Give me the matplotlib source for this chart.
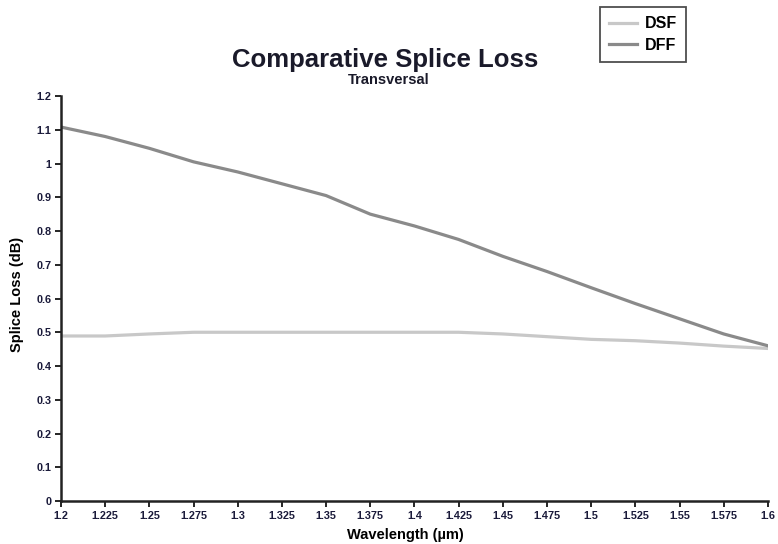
import matplotlib
matplotlib.use("Agg")
import matplotlib.pyplot as plt
import numpy as np

# wavelength (um) and splice loss (dB)
wavelength = [1.2, 1.225, 1.25, 1.275, 1.3, 1.325, 1.35, 1.375, 1.4,
              1.425, 1.45, 1.475, 1.5, 1.525, 1.55, 1.575, 1.6]
dsf_loss = [0.489, 0.489, 0.495, 0.500, 0.500, 0.500, 0.500, 0.500, 0.500,
            0.500, 0.495, 0.487, 0.479, 0.475, 0.468, 0.459, 0.452]
dff_loss = [1.108, 1.080, 1.045, 1.005, 0.975, 0.940, 0.905, 0.850, 0.815,
            0.775, 0.725, 0.680, 0.632, 0.585, 0.540, 0.495, 0.460]

xticks = [1.2, 1.225, 1.25, 1.275, 1.3, 1.325, 1.35, 1.375, 1.4,
          1.425, 1.45, 1.475, 1.5, 1.525, 1.55, 1.575, 1.6]
xtick_labels = ['1.2', '1.225', '1.25', '1.275', '1.3', '1.325', '1.35', '1.375', '1.4',
                '1.425', '1.45', '1.475', '1.5', '1.525', '1.55', '1.575', '1.6']
yticks = [0, 0.1, 0.2, 0.3, 0.4, 0.5, 0.6, 0.7, 0.8, 0.9, 1, 1.1, 1.2]
ytick_labels = ['0', '0.1', '0.2', '0.3', '0.4', '0.5', '0.6', '0.7', '0.8', '0.9', '1', '1.1', '1.2']

plt.rcParams['font.family'] = ['Liberation Sans', 'DejaVu Sans']

fig = plt.figure(figsize=(7.78, 5.44), dpi=100)
ax = fig.add_axes([0.0784, 0.079, 0.9086, 0.7445])

l1, = ax.plot(wavelength, dsf_loss, color='#c8c8c8', linewidth=2.3, label='DSF')
l2, = ax.plot(wavelength, dff_loss, color='#8a8a8a', linewidth=2.3, label='DFF')

ax.set_xlim(1.2, 1.6)
ax.set_ylim(0, 1.2)
ax.set_xticks(xticks)
ax.set_xticklabels(xtick_labels)
ax.set_yticks(yticks)
ax.set_yticklabels(ytick_labels)
ax.tick_params(direction='out', length=4, width=1.2, labelsize=7.8, colors='black', pad=3)
for lbl in ax.get_xticklabels() + ax.get_yticklabels():
    lbl.set_fontweight('bold')
    lbl.set_color('#1a1a3a')

for s in ['top', 'right']:
    ax.spines[s].set_visible(False)
for s in ['left', 'bottom']:
    ax.spines[s].set_linewidth(1.8)
    ax.spines[s].set_color('#222222')

ax.set_xlabel('Wavelength (µm)', fontsize=10.5, fontweight='bold')
ax.set_ylabel('Splice Loss (dB)', fontsize=10.5, fontweight='bold')
ax.xaxis.set_label_coords(0.487, -0.066)
ax.yaxis.set_label_coords(-0.052, 0.51)

fig.text(0.495, 0.889, 'Comparative Splice Loss', ha='center', va='center',
         fontsize=18.5, fontweight='bold', color='#1a1a2a')
fig.text(0.50, 0.853, 'Transversal', ha='center', va='center',
         fontsize=10.5, fontweight='bold', color='#1a1a2a')

leg = fig.legend(handles=[l1, l2], loc='upper left', bbox_to_anchor=(0.771, 0.988),
                 frameon=True, fancybox=False, fontsize=11.5, handlelength=1.7,
                 handletextpad=0.5, borderpad=0.6, labelspacing=0.4, borderaxespad=0)
leg.get_frame().set_edgecolor('#222222')
leg.get_frame().set_linewidth(1.3)
for t in leg.get_texts():
    t.set_fontweight('bold')

fig.savefig('out.png', dpi=100)
